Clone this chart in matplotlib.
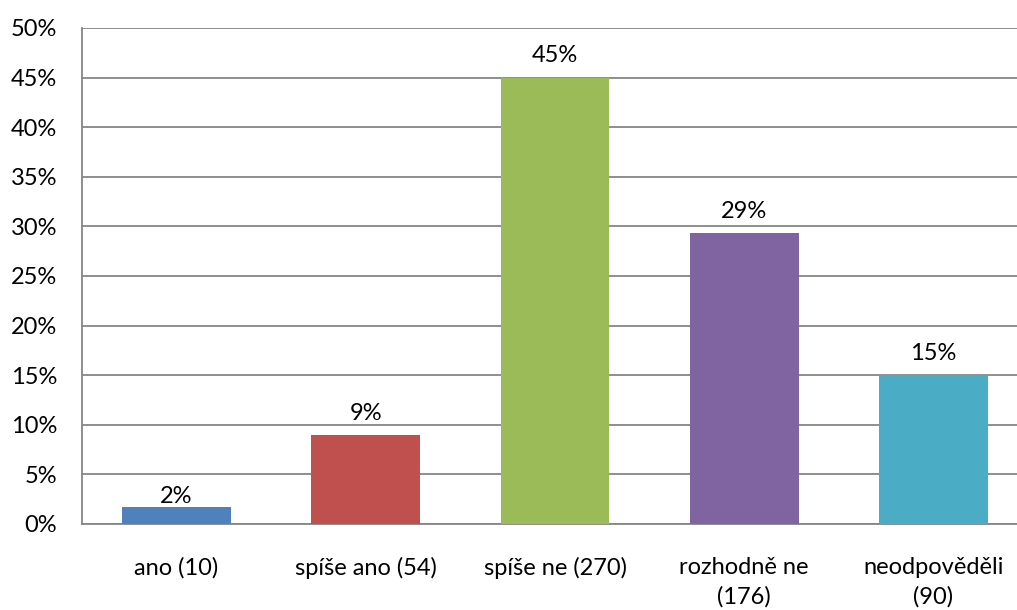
import matplotlib
matplotlib.use("Agg")
import matplotlib.pyplot as plt

categories = ["ano (10)", "spíše ano (54)", "spíše ne (270)", "rozhodně ne\n(176)", "neodpověděli\n(90)"]
percent = [1.67, 9.0, 45.0, 29.33, 15.0]
value_labels = ["2%", "9%", "45%", "29%", "15%"]
yticks = [0, 5, 10, 15, 20, 25, 30, 35, 40, 45, 50]
colors = ["#4F81BD", "#C0504D", "#9BBB59", "#8064A2", "#4BACC6"]

plt.rcParams["font.family"] = ["Lato", "DejaVu Sans"]
fs = 17

fig = plt.figure(figsize=(10.17, 6.10), dpi=100)
ax = fig.add_axes([82 / 1017, 1 - 524 / 610, 946 / 1017, 496 / 610])

x = list(range(len(categories)))
bars = ax.bar(x, percent, width=0.576, color=colors, zorder=3)

# small bars get their label tucked right on top
label_offsets = [0, 8, 8, 8, 8]
for xi, v, lab, off in zip(x, percent, value_labels, label_offsets):
    ax.annotate(lab, (xi, v), xytext=(0, off), textcoords="offset points",
                ha="center", va="bottom", fontsize=fs, color="black", zorder=4)

ax.set_xlim(-0.5, 4.5)
ax.set_ylim(0, 50)
ax.set_yticks(yticks)
ax.set_yticklabels([f"{t}%" for t in yticks], fontsize=fs)
ax.set_xticks(x)
ax.set_xticklabels(categories, fontsize=fs, linespacing=1.45)
ax.tick_params(axis="y", length=0, pad=18)
ax.tick_params(axis="x", length=0, pad=24)

ax.yaxis.grid(True, color="#868686", linewidth=1.3, zorder=0)
ax.set_axisbelow(True)
for s in ["top", "right"]:
    ax.spines[s].set_visible(False)
for s in ["left", "bottom"]:
    ax.spines[s].set_color("#868686")
    ax.spines[s].set_linewidth(1.3)

fig.savefig("out.png", dpi=100)
